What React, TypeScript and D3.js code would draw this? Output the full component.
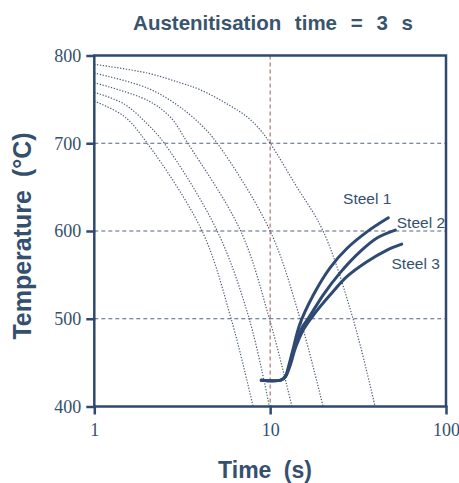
import React, { useEffect, useRef } from 'react'
import * as d3 from 'd3'

// temperature ticks and time ticks
const tempTicks = [400, 500, 600, 700, 800]
const timeTicks = [1, 10, 100]
const gridTemps = [500, 600, 700]
const gridTimes = [10]

// cooling curves (time s, temperature C)
const cool1 = [[1, 790], [2, 780], [3.07, 769], [4, 761], [5.9, 743], [7.4, 730], [8.8, 715], [10, 700], [14, 652], [20, 600], [29.6, 500], [39.5, 400]]
const cool2 = [[1, 780], [2, 763], [2.94, 744], [4, 722], [5, 700], [10, 600], [14.8, 500], [20, 400]]
const cool3 = [[1, 769], [2, 749], [2.7, 730], [3.4, 700], [6.8, 600], [9.9, 500], [13.3, 400]]
const cool4 = [[1, 758], [1.47, 745], [2, 722], [2.5, 700], [5, 600], [7.6, 500], [9.9, 400]]
const cool5 = [[1, 748], [1.47, 731], [2, 700], [4.1, 600], [6, 500], [8, 400]]
const coolCurves = [cool1, cool2, cool3, cool4, cool5]

// transformation curves
const steel1 = [[8.9, 430], [11.5, 430], [12.2, 434], [12.7, 445], [13.6, 468], [14.7, 493], [17.6, 527], [21.9, 558], [27.3, 580], [35.5, 599], [47, 615]]
const steel2 = [[8.9, 430], [11.5, 430], [12.2, 434], [12.8, 445], [13.8, 468], [15.2, 490], [16.8, 503], [20, 527], [24.9, 552], [32.7, 577], [40.5, 592], [51.5, 601]]
const steel3 = [[8.9, 430], [11.5, 430], [12.2, 434], [12.9, 445], [14, 468], [15.5, 488], [17.6, 504], [21.9, 527], [27.3, 548], [35.5, 565], [45.9, 578], [56, 585]]
const steelCurves = [steel1, steel2, steel3]
const steelNames = ['Steel 1', 'Steel 2', 'Steel 3']
const steelLabelAt = [[26, 637], [52.5, 610], [49, 563]]

export default function App() {
  const ref = useRef(null)

  useEffect(() => {
    const svg = d3.select(ref.current)
    svg.selectAll('*').remove()

    const navy = '#2f4a72'
    const x = d3.scaleLog().domain([1, 100]).range([94.3, 446])
    const y = d3.scaleLinear().domain([400, 800]).range([406.5, 55.5])

    // title
    svg.append('text')
      .attr('x', 273).attr('y', 30)
      .attr('text-anchor', 'middle')
      .attr('font-family', 'Liberation Sans, Arial, sans-serif')
      .attr('font-weight', 'bold')
      .attr('font-size', 20.5)
      .attr('word-spacing', 8)
      .attr('fill', '#38546f')
      .text('Austenitisation time = 3 s')

    // grid lines
    svg.append('g').selectAll('line').data(gridTemps).enter().append('line')
      .attr('x1', x(1)).attr('x2', x(100))
      .attr('y1', d => y(d)).attr('y2', d => y(d))
      .attr('stroke', '#55657c').attr('stroke-width', 1)
      .attr('stroke-dasharray', '4,3')
    svg.append('g').selectAll('line').data(gridTimes).enter().append('line')
      .attr('x1', d => x(d)).attr('x2', d => x(d))
      .attr('y1', y(800)).attr('y2', y(400))
      .attr('stroke', '#9a5a5e').attr('stroke-width', 1)
      .attr('stroke-dasharray', '4,3')

    const line = d3.line()
      .x(d => x(d[0]))
      .y(d => y(d[1]))
      .curve(d3.curveCatmullRom.alpha(0.5))

    // cooling curves, dotted
    svg.append('g').selectAll('path').data(coolCurves).enter().append('path')
      .attr('d', d => line(d))
      .attr('fill', 'none')
      .attr('stroke', '#4d5c75')
      .attr('stroke-width', 1.2)
      .attr('stroke-dasharray', '1.3,1.6')

    // steel curves
    svg.append('g').selectAll('path').data(steelCurves).enter().append('path')
      .attr('d', d => line(d))
      .attr('fill', 'none')
      .attr('stroke', navy)
      .attr('stroke-width', 3)
      .attr('stroke-linecap', 'round')

    svg.append('g').selectAll('text').data(steelNames).enter().append('text')
      .attr('x', (d, i) => x(steelLabelAt[i][0]))
      .attr('y', (d, i) => y(steelLabelAt[i][1]))
      .attr('dy', '0.35em')
      .attr('font-family', 'Liberation Sans, Arial, sans-serif')
      .attr('font-size', 15.5)
      .attr('fill', '#34506e')
      .text(d => d)

    // frame
    svg.append('rect')
      .attr('x', x(1)).attr('y', y(800))
      .attr('width', x(100) - x(1)).attr('height', y(400) - y(800))
      .attr('fill', 'none').attr('stroke', navy).attr('stroke-width', 2.5)

    // axes
    const yAxis = svg.append('g')
      .attr('transform', 'translate(' + x(1) + ',0)')
      .call(d3.axisLeft(y).tickValues(tempTicks).tickSize(8).tickSizeOuter(0).tickPadding(5))
    yAxis.select('.domain').remove()
    yAxis.selectAll('line').attr('stroke', navy).attr('stroke-width', 2.5).attr('x2', -8).attr('x1', 1)
    yAxis.selectAll('text')
      .attr('font-family', 'Liberation Serif, Times New Roman, serif')
      .attr('font-size', 18).attr('fill', '#34506e')

    const xAxis = svg.append('g')
      .attr('transform', 'translate(0,' + y(400) + ')')
      .call(d3.axisBottom(x).tickValues(timeTicks).tickFormat(d3.format('d')).tickSize(8).tickSizeOuter(0).tickPadding(9))
    xAxis.select('.domain').remove()
    xAxis.selectAll('line').attr('stroke', navy).attr('stroke-width', 2.5).attr('y1', -1)
    xAxis.selectAll('text')
      .attr('font-family', 'Liberation Serif, Times New Roman, serif')
      .attr('font-size', 18).attr('fill', '#34506e')

    // axis titles
    svg.append('text')
      .attr('x', 265).attr('y', 478)
      .attr('text-anchor', 'middle')
      .attr('font-family', 'Liberation Sans, Arial, sans-serif')
      .attr('font-weight', 'bold')
      .attr('font-size', 23)
      .attr('word-spacing', 6)
      .attr('fill', '#34506e')
      .text('Time (s)')

    svg.append('text')
      .attr('transform', 'translate(31,236) rotate(-90)')
      .attr('text-anchor', 'middle')
      .attr('font-family', 'Liberation Sans, Arial, sans-serif')
      .attr('font-weight', 'bold')
      .attr('font-size', 25)
      .attr('word-spacing', 6)
      .attr('fill', '#34506e')
      .text('Temperature (°C)')
  }, [])

  return (
    <svg ref={ref} width={459} height={483}
      style={{ position: 'absolute', left: 0, top: 0, background: '#fff' }} />
  )
}
